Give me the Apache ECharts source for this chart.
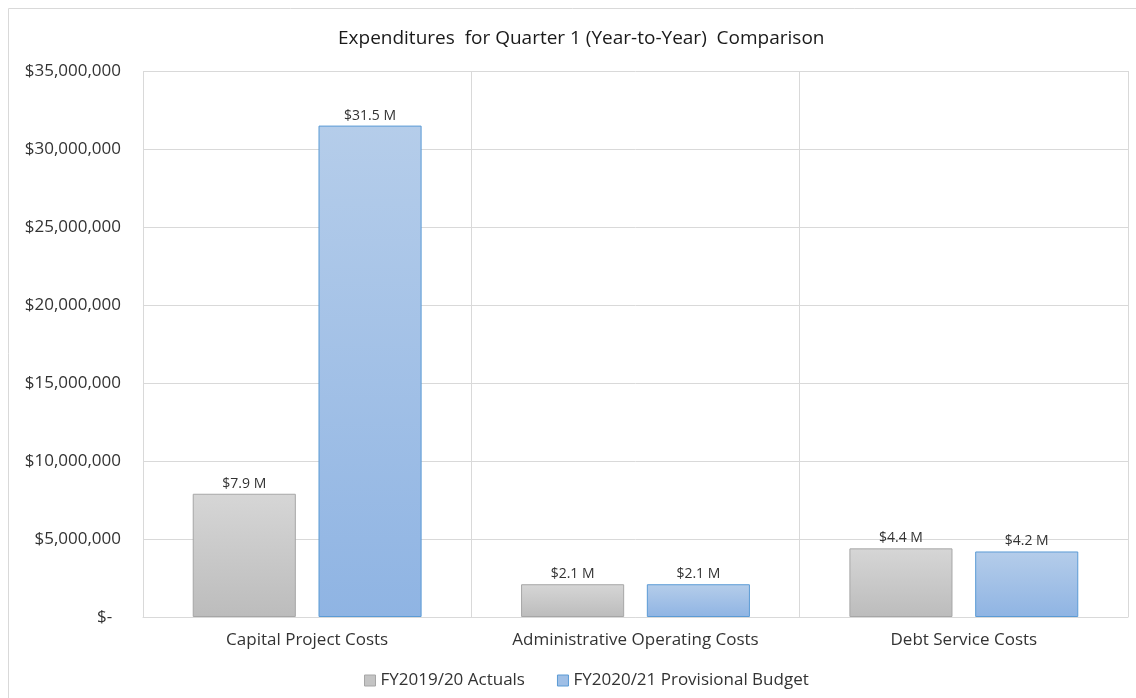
<!DOCTYPE html>
<html lang="en">
<head>
  <meta charset="UTF-8">
  <title>Expenditures Q1</title>
  <style>
    html, body { margin:0; padding:0; background:#fff; }
    #chart { width:1136px; height:698px; }
  </style>
</head>
<body>
  <div id="chart"></div>
  <script src="https://cdn.jsdelivr.net/npm/echarts@6/dist/echarts.min.js"></script>
  <script>
    var categories = ['Capital Project Costs', 'Administrative Operating Costs', 'Debt Service Costs']
    var seriesNames = ['FY2019/20 Actuals', 'FY2020/21 Provisional Budget']
    var actuals = [7900000, 2100000, 4400000]
    var budget = [31500000, 2100000, 4200000]
    var yTicks = [0, 5000000, 10000000, 15000000, 20000000, 25000000, 30000000, 35000000]

    var font = '"Open Sans", "Noto Sans", sans-serif'
    var textColor = '#333333'

    function money(v) {
      if (v === 0) return '$-  '
      return '$' + v.toLocaleString('en-US')
    }
    function millions(p) {
      return '$' + (p.value / 1000000).toFixed(1) + ' M'
    }

    var grayFill = new echarts.graphic.LinearGradient(0, 0, 0, 1, [
      { offset: 0, color: '#d6d6d6' },
      { offset: 1, color: '#bcbcbc' }
    ])
    var blueFill = new echarts.graphic.LinearGradient(0, 0, 0, 1, [
      { offset: 0, color: '#b5cdea' },
      { offset: 1, color: '#8fb4e3' }
    ])

    var myChart = echarts.init(document.getElementById('chart'))
    var option = {
      animation: false,
      textStyle: { fontFamily: font },
      graphic: [{
        type: 'rect',
        shape: { x: 8.5, y: 8.5, width: 1140, height: 700 },
        style: { fill: 'none', stroke: '#d9d9d9', lineWidth: 1 },
        silent: true
      }],
      title: {
        text: 'Expenditures  for Quarter 1 (Year-to-Year)  Comparison',
        left: 333,
        top: 24,
        textStyle: { fontFamily: font, fontSize: 19, fontWeight: 'normal', color: '#1a1a1a' }
      },
      legend: {
        bottom: 4,
        left: 359,
        itemWidth: 11,
        itemHeight: 11,
        itemGap: 32,
        textStyle: { fontFamily: font, fontSize: 17, color: textColor },
        data: [
          { name: seriesNames[0], icon: 'rect', itemStyle: { color: '#c4c4c4', borderColor: '#a6a6a6', borderWidth: 1 } },
          { name: seriesNames[1], icon: 'rect', itemStyle: { color: '#9fbfe6', borderColor: '#5b9bd5', borderWidth: 1 } }
        ]
      },
      grid: { left: 143, right: 8, top: 71, bottom: 81 },
      xAxis: {
        type: 'category',
        data: categories,
        axisTick: { show: false },
        axisLine: { lineStyle: { color: '#d9d9d9' } },
        splitLine: { show: true, lineStyle: { color: '#d9d9d9' } },
        axisLabel: { fontFamily: font, fontSize: 17, color: textColor, margin: 15 }
      },
      yAxis: {
        type: 'value',
        min: yTicks[0],
        max: yTicks[yTicks.length - 1],
        interval: yTicks[1] - yTicks[0],
        axisLine: { show: false },
        axisTick: { show: false },
        splitLine: { lineStyle: { color: '#d9d9d9' } },
        axisLabel: { fontFamily: font, fontSize: 17, color: textColor, margin: 22, formatter: money }
      },
      series: [
        {
          name: seriesNames[0],
          type: 'bar',
          data: actuals,
          barWidth: '31.4%',
          barGap: '22%',
          itemStyle: { color: grayFill, borderColor: '#a6a6a6', borderWidth: 1 },
          label: { show: true, position: 'top', distance: 3, formatter: millions, fontFamily: font, fontSize: 14, color: textColor }
        },
        {
          name: seriesNames[1],
          type: 'bar',
          data: budget,
          barWidth: '31.4%',
          itemStyle: { color: blueFill, borderColor: '#5b9bd5', borderWidth: 1 },
          label: { show: true, position: 'top', distance: 3, formatter: millions, fontFamily: font, fontSize: 14, color: textColor }
        }
      ]
    }
    myChart.setOption(option)
  </script>
</body>
</html>
